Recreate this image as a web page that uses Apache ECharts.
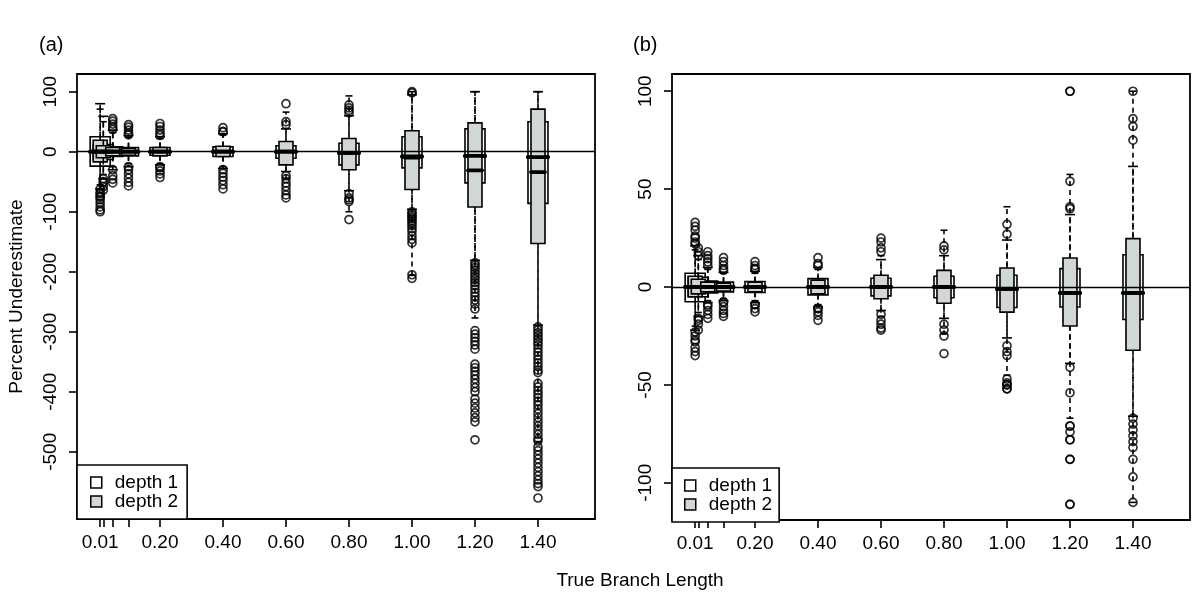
<!DOCTYPE html>
<html><head><meta charset="utf-8">
<script src="https://cdn.jsdelivr.net/npm/echarts@6/dist/echarts.min.js"></script>
<style>html,body{margin:0;padding:0;background:#fff}#c{width:1200px;height:600px}</style>
</head><body><div id="c"></div><script>
// ---- data ----
const positions = [0.01, 0.02, 0.05, 0.1, 0.2, 0.4, 0.6, 0.8, 1.0, 1.2, 1.4];
const xTickValues = [0.01, 0.02, 0.05, 0.1, 0.2, 0.4, 0.6, 0.8, 1.0, 1.2, 1.4];
const xLabelValues = [0.01, 0.2, 0.4, 0.6, 0.8, 1.0, 1.2, 1.4];
const yTicksA = [-500, -400, -300, -200, -100, 0, 100];
const yTicksB = [-100, -50, 0, 50, 100];
const seriesNames = ['depth 1', 'depth 2'];

// box stats per position: [lowWhisker, q1, median, q3, highWhisker]
const boxA1 = [
  [-62, -24, 0, 25, 80], [-45, -13, 0, 12, 59], [-30, -8, 0, 8, 36], [-25, -7, 0, 7, 27],
  [-22, -6, 0, 7, 25], [-28, -8, 0, 8, 30], [-33, -11, 0, 10, 38], [-65, -22, -2, 14, 60],
  [-96, -27, -8, 25, 95], [-181, -52, -7, 38, 100], [-289, -86, -9, 50, 100]
];
const boxA2 = [
  [-55, -17, 0, 19, 71], [-38, -10, 0, 10, 50], [-25, -7, 0, 7, 32], [-20, -6, 0, 6, 24],
  [-20, -7, 0, 7, 22], [-25, -8, 0, 9, 28], [-44, -22, 0, 17, 66], [-100, -30, -2, 22, 93],
  [-206, -63, -10, 35, 100], [-277, -92, -31, 48, 100], [-483, -153, -34, 71, 100]
];
const boxB1 = [
  [-22, -7.5, 0, 7, 21], [-15, -5, 0, 5, 16], [-8, -3, 0, 3, 10], [-7, -2.5, 0, 2.5, 7.5],
  [-8, -2.8, 0, 2.8, 8], [-10, -4, 0, 4.3, 10], [-12, -4.5, 0, 4.5, 14], [-16, -5.5, 0, 5.5, 16],
  [-26, -10.5, -1, 6, 24], [-39, -10.2, -3, 9.4, 37], [-66, -16.6, -3, 16.5, 61.6]
];
const boxB2 = [
  [-20, -5, 0, 5.5, 19], [-13, -3.5, 0, 4, 14], [-7, -2.5, 0, 2.5, 9], [-6, -2, 0, 2, 7],
  [-7, -2.5, 0, 2.5, 7], [-9, -3.5, 0, 3.5, 9], [-15, -6, 0, 6, 16], [-24, -8.3, 0, 8.5, 29],
  [-45, -12.8, -1, 9.7, 41], [-67, -19.9, -3, 14.8, 57.5], [-110, -32.3, -3, 24.7, 100]
];

// outliers per position
const outA1 = [
  [-68, -74, -80, -86, -92, -97, -100],
  [-52, -58, -64],
  [41, 46, 51, 55, -40, -46, -52],
  [31, 36, 41, 45, -30, -37, -44, -51, -57],
  [31, 36, 42, 47, -27, -32, -37, -43],
  [34, 40, -36, -42, -48, -55, -62],
  [45, 50, -40, -45],
  [65, 69, 73, 78, -70, -77, -80, -83],
  [98, 100, -100, -103, -106, -109, -112, -115, -119, -123, -128, -133, -140, -146, -152, -205, -211],
  [-185, -189, -193, -198, -203, -208, -213, -218, -223, -229, -235, -241, -247, -254, -262,
   -298, -304, -310, -316, -322, -329, -354, -360, -366, -372, -379, -386, -393, -400,
   -412, -419, -427, -435, -443, -450, -480],
  [-292, -297, -302, -307, -312, -317, -322, -328, -334, -340, -346, -352, -358, -364, -368,
   -386, -392, -398, -404, -410, -416, -422, -429, -436, -443, -450, -457, -464, -471, -478, -482,
   -492, -498, -505, -512, -519, -526, -533, -540, -547, -553, -558, -577]
];
const outA2 = [
  [-62, -70, -76], [-45, -50], [37, -30], [28, -25], [27, -25], [33, -30],
  [80, -52, -58, -65, -72, -77], [-113], [], [], []
];
const outB1 = [
  [23, 26, 29, 31, 33, -25, -28, -31, -33, -35],
  [18, 20, -17, -19, -22],
  [12.8, 14.5, 16, 18, -10, -12, -14, -16],
  [9.4, 11, 13, 15, -8, -10, -12, -13.5, -15],
  [9.5, 11, 13, -9, -11, -12.7],
  [12, 15, -11, -12.7, -14.5, -17],
  [18, 20, 23, -14, -17, -19, -21],
  [19, 21, -19, -22, -25],
  [27, 32, -30, -33, -35, -47, -49, -50, -52],
  [40, 41, 54, 100, -41, -54, -71, -74, -78, -88, -111],
  [75, 82, 86, 100, -67, -70, -73, -76, -79, -82, -88, -97, -110]
];
const outB2 = [
  [22, 25, -23, -27], [16, -16], [11, -9], [8.5, -7.5], [9, -9], [11, -11],
  [25, -22], [-34], [-50, -52], [100, -71, -78, -88, -111], []
];

// ---- styling ----
const FONT = 'Liberation Sans';
const GREY = '#d1d7d4';
const HALF1 = 10, HALF2 = 7;
const LW = 1.6;

function boxRows(stats) { return stats.map((s, i) => [positions[i]].concat(s)); }
function outRows(lists) {
  const rows = [];
  lists.forEach((l, i) => l.forEach(v => rows.push([positions[i], v])));
  return rows;
}

function renderer(halfW, fill, part) {
  return function (params, api) {
    const x = api.value(0);
    const c = v => api.coord([x, v]);
    const cx = c(api.value(3))[0];
    const yLo = c(api.value(1))[1], yQ1 = c(api.value(2))[1], yMed = c(api.value(3))[1];
    const yQ3 = c(api.value(4))[1], yHi = c(api.value(5))[1];
    const med = {type: 'line', shape: {x1: cx - halfW, y1: yMed, x2: cx + halfW, y2: yMed},
      style: {stroke: '#000', lineWidth: 3.8, lineCap: 'round'}};
    if (part === 'median') return med;
    const capW = halfW / 2;
    const ws = {stroke: '#000', lineWidth: LW, lineDash: [5, 4]};
    const ss = {stroke: '#000', lineWidth: LW};
    return {type: 'group', children: [
      {type: 'line', shape: {x1: cx, y1: yQ3, x2: cx, y2: yHi}, style: ws},
      {type: 'line', shape: {x1: cx, y1: yQ1, x2: cx, y2: yLo}, style: ws},
      {type: 'line', shape: {x1: cx - capW, y1: yHi, x2: cx + capW, y2: yHi}, style: ss},
      {type: 'line', shape: {x1: cx - capW, y1: yLo, x2: cx + capW, y2: yLo}, style: ss},
      {type: 'rect', shape: {x: cx - halfW, y: yQ3, width: 2 * halfW, height: yQ1 - yQ3},
        style: {fill: fill, stroke: '#000', lineWidth: LW}},
      med
    ]};
  };
}

function boxSeries(name, idx, stats, halfW, fill, part, z) {
  return {
    type: 'custom', name: name, xAxisIndex: idx, yAxisIndex: idx, z: z,
    itemStyle: {color: fill, borderColor: '#000'},
    data: boxRows(stats), encode: {x: 0, y: [1, 2, 3, 4, 5]},
    renderItem: renderer(halfW, fill, part), silent: true
  };
}
function outSeries(idx, lists, z, withZero) {
  const s = {
    type: 'scatter', name: 'outliers', xAxisIndex: idx, yAxisIndex: idx, z: z,
    symbol: 'circle', symbolSize: 8, silent: true,
    itemStyle: {color: 'rgba(0,0,0,0)', borderColor: '#000', borderWidth: 1.7},
    data: outRows(lists)
  };
  if (withZero) s.markLine = {silent: true, symbol: 'none', label: {show: false},
    lineStyle: {color: '#000', width: 1.4, type: 'solid'}, data: [{yAxis: 0}]};
  return s;
}

function xAxis(idx) {
  return {
    type: 'value', gridIndex: idx, min: -0.0635, max: 1.581,
    splitLine: {show: false}, axisLine: {show: false, onZero: false},
    axisTick: {show: true, length: 8, customValues: xTickValues, lineStyle: {color: '#000', width: LW}},
    axisLabel: {customValues: xLabelValues, formatter: v => v.toFixed(2), margin: 14,
      fontFamily: FONT, fontSize: 19, color: '#000'}
  };
}
function yAxis(idx, min, max, ticks, name) {
  return {
    type: 'value', gridIndex: idx, min: min, max: max,
    splitLine: {show: false}, axisLine: {show: false, onZero: false},
    name: name, nameLocation: 'middle', nameGap: 51,
    nameTextStyle: {fontFamily: FONT, fontSize: 19, color: '#000'},
    axisTick: {show: true, length: 8, customValues: ticks, lineStyle: {color: '#000', width: LW}},
    axisLabel: {customValues: ticks, rotate: 90, margin: 17, fontFamily: FONT, fontSize: 19, color: '#000'}
  };
}
function legend(left, top, padding) {
  return {
    left: left, top: top, orient: 'vertical', itemGap: 0, itemWidth: 11, itemHeight: 11,
    icon: 'rect', padding: padding, backgroundColor: '#fff', borderColor: '#000', borderWidth: 1.6,
    borderRadius: 0, selectedMode: false, z: 10,
    textStyle: {fontFamily: FONT, fontSize: 19, color: '#000', lineHeight: 18, padding: [0, 0, 0, 8]},
    data: [
      {name: seriesNames[0], itemStyle: {color: '#fff', borderColor: '#000', borderWidth: 1.5}},
      {name: seriesNames[1], itemStyle: {color: GREY, borderColor: '#000', borderWidth: 1.5}}
    ]
  };
}

const chart = echarts.init(document.getElementById('c'), null, {renderer: 'canvas'});
chart.setOption({
  animation: false,
  backgroundColor: '#fff',
  title: [
    {text: '(a)', left: 34, top: 30, textStyle: {fontFamily: FONT, fontSize: 20, fontWeight: 'normal', color: '#000'}},
    {text: '(b)', left: 628, top: 30, textStyle: {fontFamily: FONT, fontSize: 20, fontWeight: 'normal', color: '#000'}},
    {text: 'True Branch Length', left: 635, top: 566, textAlign: 'center',
      textStyle: {fontFamily: FONT, fontSize: 19, fontWeight: 'normal', color: '#000'}}
  ],
  grid: [
    {left: 77, top: 74, width: 518, height: 445, show: true, borderColor: '#000', borderWidth: 1.8, backgroundColor: '#fff'},
    {left: 672, top: 74, width: 518, height: 446, show: true, borderColor: '#000', borderWidth: 1.8, backgroundColor: '#fff'}
  ],
  xAxis: [xAxis(0), xAxis(1)],
  yAxis: [yAxis(0, -612, 129.5, yTicksA, 'Percent Underestimate'), yAxis(1, -119, 108.8, yTicksB, '')],
  legend: [legend(77, 465, [8, 9, 8, 13]), legend(672, 468, [8, 7, 8, 12])],
  series: [
    boxSeries(seriesNames[0], 0, boxA1, HALF1, '#fff', 'full', 2),
    boxSeries(seriesNames[1], 0, boxA2, HALF2, GREY, 'full', 3),
    boxSeries(seriesNames[0], 0, boxA1, HALF1, '#fff', 'median', 4),
    outSeries(0, outA1, 5, true),
    outSeries(0, outA2, 5, false),
    boxSeries(seriesNames[0], 1, boxB1, HALF1, '#fff', 'full', 2),
    boxSeries(seriesNames[1], 1, boxB2, HALF2, GREY, 'full', 3),
    boxSeries(seriesNames[0], 1, boxB1, HALF1, '#fff', 'median', 4),
    outSeries(1, outB1, 5, true),
    outSeries(1, outB2, 5, false)
  ]
});
</script></body></html>
